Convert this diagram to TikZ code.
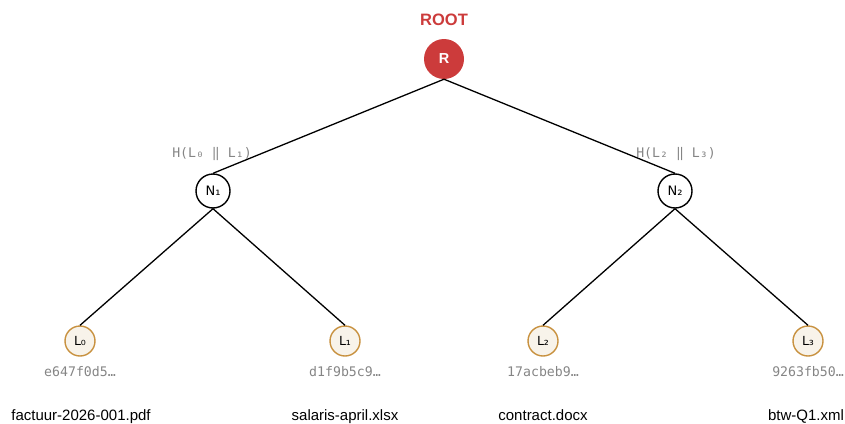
\documentclass[tikz,border=0pt]{standalone}
\usepackage{fontspec}
\setmainfont{Liberation Sans}
\newfontfamily\hashfont{DejaVu Sans Mono}
\newfontfamily\subfont{DejaVu Sans}
\usetikzlibrary{positioning}
\definecolor{rootred}{HTML}{CC3B3B}
\definecolor{leafgold}{HTML}{C8913F}
\definecolor{leafcream}{HTML}{F8F3EA}
\definecolor{hashgray}{HTML}{858585}

\begin{document}
\begin{tikzpicture}[x=1pt, y=-1pt,
  rootnode/.style={circle, fill=rootred, text=white, minimum size=40pt, inner sep=0pt, font=\fontsize{14.5}{16}\selectfont\bfseries},
  midnode/.style={circle, draw=black, line width=1.4pt, fill=white, minimum size=34pt, inner sep=0pt, font=\subfont\fontsize{13}{15}\selectfont},
  leafnode/.style={circle, draw=leafgold, line width=1.4pt, fill=leafcream, minimum size=30pt, inner sep=0pt, font=\subfont\fontsize{12.5}{14}\selectfont},
  hashlbl/.style={text=hashgray, font=\hashfont\fontsize{13.2}{15}\selectfont},
  filelbl/.style={anchor=base, font=\fontsize{15}{17}\selectfont},
  edge/.style={line width=1.3pt, black},
]
  \useasboundingbox (0,0) rectangle (845,423);

  % root
  \node[text=rootred, font=\fontsize{16.5}{19}\selectfont\bfseries] (rootlbl) at (444,20) {ROOT};
  \node[rootnode] (root) at (444,59) {R};

  % inner nodes
  \node[midnode] (n1) at (213,191) {N₁};
  \node[midnode] (n2) at (675,191) {N₂};
  \node[hashlbl] (h1) at (212,154) {H(L₀ ‖ L₁)};
  \node[hashlbl] (h2) at (676,154) {H(L₂ ‖ L₃)};

  % leaves
  \node[leafnode] (l0) at (80,341) {L₀};
  \node[leafnode] (l1) at (345,341) {L₁};
  \node[leafnode] (l2) at (543,341) {L₂};
  \node[leafnode] (l3) at (808,341) {L₃};

  \node[hashlbl] (d0) at (80,372) {e647f0d5…};
  \node[hashlbl] (d1) at (345,372) {d1f9b5c9…};
  \node[hashlbl] (d2) at (543,372) {17acbeb9…};
  \node[hashlbl] (d3) at (808,372) {9263fb50…};

  \node[filelbl] (f0) at (81,420.5) {factuur-2026-001.pdf};
  \node[filelbl] (f1) at (345,420.5) {salaris-april.xlsx};
  \node[filelbl] (f2) at (543,420.5) {contract.docx};
  \node[filelbl] (f3) at (806,420.5) {btw-Q1.xml};

  % edges
  \draw[edge] (root.south) -- (n1.north);
  \draw[edge] (root.south) -- (n2.north);
  \draw[edge] (n1.south) -- (l0.north);
  \draw[edge] (n1.south) -- (l1.north);
  \draw[edge] (n2.south) -- (l2.north);
  \draw[edge] (n2.south) -- (l3.north);
\end{tikzpicture}
\end{document}
